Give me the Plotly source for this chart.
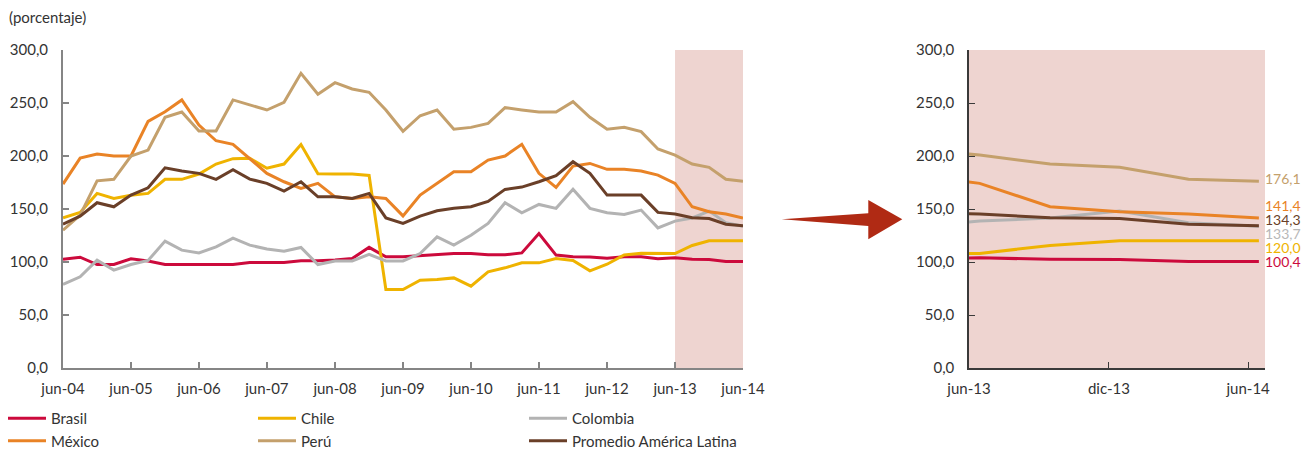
import plotly.graph_objects as go

W, H = 1315, 451

# Quarterly observations, jun-04 .. jun-14
quarters = [f"{2004 + (5 + 3 * i) // 12}-{(5 + 3 * i) % 12 + 1:02d}-15" for i in range(41)]

brasil = [102.7, 104.5, 97.6, 97.6, 103.0, 101.0, 97.6, 97.6, 97.6, 97.6, 97.6,
          99.5, 99.5, 99.5, 101.1, 101.1, 102.0, 103.3, 113.8, 104.9, 104.9,
          106.0, 106.5, 108.0, 108.0, 106.8, 106.8, 108.6, 126.9, 106.5, 104.9,
          104.7, 103.5, 105.0, 104.9, 103.0, 104.0, 102.5, 102.3, 100.5, 100.4]
chile = [141.7, 146.8, 164.7, 160.0, 163.0, 164.7, 178.0, 178.0, 183.0, 192.4, 197.5,
         197.8, 188.5, 192.4, 210.8, 183.2, 183.0, 183.0, 181.7, 74.0, 74.0,
         82.8, 83.5, 85.0, 77.2, 90.7, 94.5, 99.2, 99.2, 103.3, 101.4,
         91.6, 97.9, 106.7, 108.2, 108.2, 108.0, 115.6, 120.0, 120.0, 120.0]
colombia = [78.8, 86.0, 101.7, 92.3, 97.6, 101.4, 119.7, 111.2, 108.6, 114.3, 122.5,
            115.9, 112.2, 110.2, 113.7, 97.6, 101.0, 101.0, 107.2, 101.0, 101.0,
            108.0, 123.7, 115.9, 125.3, 136.4, 155.9, 146.4, 154.3, 150.6, 168.6,
            150.6, 146.4, 144.9, 149.0, 132.2, 138.6, 141.5, 148.0, 137.1, 133.7]
mexico = [173.5, 198.0, 201.8, 200.0, 200.0, 232.7, 241.8, 252.9, 229.2, 214.4, 211.0,
          197.8, 183.6, 175.7, 169.4, 174.2, 161.5, 160.0, 161.5, 160.0, 143.5,
          163.1, 174.2, 185.1, 185.1, 196.2, 200.0, 211.0, 183.6, 170.4, 190.5,
          193.0, 187.4, 187.4, 185.8, 182.0, 174.2, 152.1, 147.4, 145.2, 141.4]
peru = [130.0, 144.2, 176.6, 178.0, 200.0, 205.6, 236.5, 241.5, 223.6, 223.6, 252.9,
        248.1, 243.4, 250.7, 278.0, 258.2, 269.2, 263.2, 260.1, 243.4, 223.3,
        238.0, 243.4, 225.2, 227.0, 230.8, 245.6, 243.4, 241.5, 241.5, 251.3,
        236.5, 225.2, 227.0, 223.0, 206.6, 200.9, 192.4, 189.3, 178.0, 176.1]
promedio = [135.7, 143.3, 155.9, 152.1, 163.1, 170.0, 188.9, 185.8, 183.6, 178.0, 187.0,
            178.2, 174.2, 166.9, 175.7, 161.5, 161.5, 160.0, 164.7, 141.6, 136.4,
            143.3, 148.3, 150.6, 152.1, 157.2, 168.5, 170.7, 175.7, 181.4, 194.6,
            183.6, 163.1, 163.1, 163.1, 146.8, 145.2, 141.7, 141.0, 135.7, 134.3]

names = ["Brasil", "Chile", "Colombia", "México", "Perú", "Promedio América Latina"]
series = [brasil, chile, colombia, mexico, peru, promedio]
colors = ["#CC0A3C", "#EFB300", "#B3B3B3", "#E98326", "#C4A06C", "#6A3F28"]
label_colors = ["#CC0A3C", "#EFB300", "#B8B8B8", "#E98326", "#C4A06C", "#6A3F28"]
legend_of = ["legend", "legend2", "legend3", "legend", "legend2", "legend3"]
# vertical nudges (px) keeping the end labels of the detail panel apart
label_nudge = [0, -7, -7, 13, 3, 6]

left_ticks = quarters[::4]
left_ticktext = ["jun-04", "jun-05", "jun-06", "jun-07", "jun-08", "jun-09",
                 "jun-10", "jun-11", "jun-12", "jun-13", "jun-14"]
right_ticks = ["2013-06-01", "2013-12-01", "2014-06-01"]
right_ticktext = ["jun-13", "dic-13", "jun-14"]
right_range = ["2013-06-01", "2014-06-23"]
y_ticks = [0, 50, 100, 150, 200, 250, 300]

FONT = "Lato"
TXT = "#333333"
SHADE = "#EED4D0"

fig = go.Figure()

for name, ys, col, lg in zip(names, series, colors, legend_of):
    fig.add_trace(go.Scatter(x=quarters, y=ys, name=name, mode="lines",
                             line=dict(color=col, width=3), xaxis="x", yaxis="y",
                             legend=lg))
# detail panel: last year (previous quarter kept so the line enters from the edge)
for name, ys, col in zip(names, series, colors):
    fig.add_trace(go.Scatter(x=quarters[35:], y=ys[35:], name=name, mode="lines",
                             line=dict(color=col, width=3), xaxis="x2", yaxis="y2",
                             showlegend=False))

for ys, col, dy in zip(series, label_colors, label_nudge):
    fig.add_annotation(x=quarters[-1], y=ys[-1], xref="x2", yref="y2",
                       text=f"{ys[-1]:.1f}".replace(".", ","), showarrow=False,
                       xanchor="left", yanchor="middle", xshift=4, yshift=dy,
                       font=dict(family=FONT, size=14, color=col))

def px(x):
    return x / W

def py(y):
    return 1 - y / H

ydom = [py(368), py(50)]
axis_common = dict(showgrid=False, zeroline=False, ticks="inside", ticklen=6,
                   automargin=False,
                   tickfont=dict(family=FONT, size=15, color=TXT))

fig.update_layout(
    width=W, height=H, margin=dict(l=0, r=0, t=0, b=0, autoexpand=False),
    paper_bgcolor="white", plot_bgcolor="rgba(0,0,0,0)",
    separators=",.",
    showlegend=True,
    xaxis=dict(domain=[px(63), px(743)], type="date", range=[quarters[0], quarters[-1]],
               tickvals=left_ticks, ticktext=left_ticktext, showline=True,
               linecolor="#858585", linewidth=2, tickcolor="#858585", tickwidth=1.5,
               ticklabelstandoff=6, **axis_common),
    yaxis=dict(domain=ydom, range=[0, 300], tickvals=y_ticks, tickformat=".1f",
               showline=True, linecolor="#858585", linewidth=2, tickcolor="#858585",
               tickwidth=1.5, ticklabelstandoff=10, **axis_common),
    xaxis2=dict(domain=[px(969), px(1265)], type="date", range=right_range,
                tickvals=right_ticks, ticktext=right_ticktext, showline=True,
                linecolor="#3a3a3a", linewidth=1.5, tickcolor="#3a3a3a", tickwidth=1.2,
                ticklabelstandoff=6, anchor="y2", **axis_common),
    yaxis2=dict(domain=ydom, range=[0, 300], tickvals=y_ticks, tickformat=".1f",
                showline=True, linecolor="#3a3a3a", linewidth=1.5, tickcolor="#3a3a3a",
                tickwidth=1.2, ticklabelstandoff=10, anchor="x2", **axis_common),
)

legend_base = dict(orientation="v", yanchor="top", y=py(402), xanchor="left",
                   bgcolor="rgba(0,0,0,0)", font=dict(family=FONT, size=15, color=TXT),
                   tracegroupgap=0, itemwidth=38)
fig.update_layout(legend=dict(x=px(3), **legend_base),
                  legend2=dict(x=px(253), **legend_base),
                  legend3=dict(x=px(524), **legend_base))

# shaded last year on the long panel, full background on the detail panel
fig.add_shape(type="rect", xref="x", yref="y", x0=quarters[36], x1=quarters[40],
              y0=0, y1=300, fillcolor=SHADE, line_width=0, layer="below")
fig.add_shape(type="rect", xref="x2 domain", yref="y2 domain", x0=0, x1=1, y0=0, y1=1,
              fillcolor=SHADE, line_width=0, layer="below")

# arrow linking the two panels
ax = [781.7, 868.3, 868.3, 902.3, 868.3, 868.3]
ay = [219.3, 213.3, 200.0, 219.3, 239.3, 226.0]
path = "M " + " L ".join(f"{px(a):.5f},{py(b):.5f}" for a, b in zip(ax, ay)) + " Z"
fig.add_shape(type="path", xref="paper", yref="paper", path=path,
              fillcolor="#B02A14", line_width=0)

fig.add_annotation(x=px(7), y=py(17), xref="paper", yref="paper", text="(porcentaje)",
                   showarrow=False, xanchor="left", yanchor="middle",
                   font=dict(family=FONT, size=15, color=TXT))

fig.write_html("out.html")
